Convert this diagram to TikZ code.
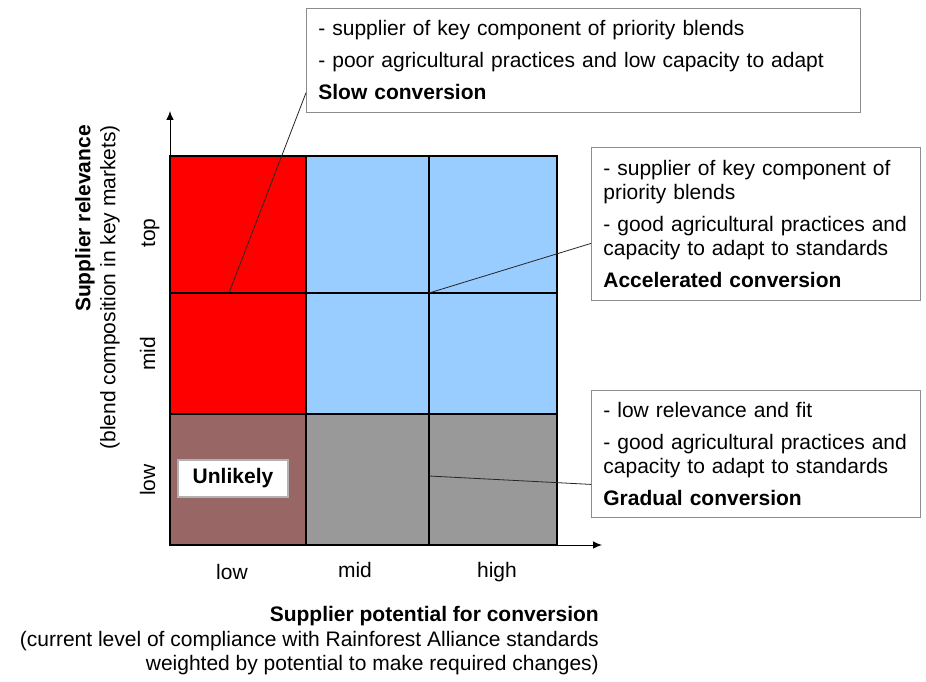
\documentclass[tikz,border=0pt]{standalone}
\usepackage{fontspec}
\setmainfont{Liberation Sans}
\usepackage{tikz}
\usetikzlibrary{arrows.meta}

\definecolor{cellblue}{HTML}{99CCFF}
\definecolor{cellbrown}{HTML}{996666}
\definecolor{cellgray}{HTML}{999999}
\newcommand{\bodyfont}{\fontsize{21}{24}\selectfont}

\begin{document}
\begin{tikzpicture}[x=1pt,y=-1pt,
			font=\bodyfont,
			note/.style={draw=black!45, line width=0.8pt, fill=white, align=left, anchor=north west, inner xsep=12pt, inner ysep=0pt},
			tag/.style={inner sep=0pt},
			link/.style={line width=0.8pt, black!85},
			axis/.style={line width=1pt, -{Latex[length=9pt,width=7.5pt]}},
			cell/.style={draw=black, line width=1.2pt}]

			\useasboundingbox (0,0) rectangle (926,682);

			% matrix cells
			\fill[red] (170,156) rectangle (306,414);
			\fill[cellblue] (306,156) rectangle (557,414);
			\fill[cellbrown] (170,414) rectangle (306,545);
			\fill[cellgray] (306,414) rectangle (557,545);
			\draw[cell] (170,156) rectangle (557,545);
			\foreach \x in {306,429} \draw[cell] (\x,156) -- (\x,545);
			\foreach \y in {293,414} \draw[cell] (170,\y) -- (557,\y);

			% axes
			\coordinate (origin) at (170,545);
			\coordinate (yend) at (170,111);
			\coordinate (xend) at (602,545);
			\draw[axis] (origin) -- (yend);
			\draw[axis] (origin) -- (xend);

			\node[tag, anchor=base] (xlow) at (232,579) {low};
			\node[tag, anchor=base] (xmid) at (355,577) {mid};
			\node[tag, anchor=base] (xhigh) at (497,577) {high};
			\node[tag, anchor=base, rotate=90] (ytop) at (155,233) {top};
			\node[tag, anchor=base, rotate=90] (ymid) at (155,354) {mid};
			\node[tag, anchor=base, rotate=90] (ylow) at (155,480) {low};

			% axis titles
			\node[tag, anchor=east, rotate=90, font=\bodyfont\bfseries] (ytitle) at (85,125) {Supplier relevance};
			\node[tag, anchor=east, rotate=90] (ysub) at (110,125) {(blend composition in key markets)};
			\node[tag, anchor=east, font=\bodyfont\bfseries] (xtitle) at (599,616) {Supplier potential for conversion};
			\node[tag, anchor=east] (xsub) at (599,641) {(current level of compliance with Rainforest Alliance standards};
			\node[tag, anchor=east] (xsubb) at (599,665) {weighted by potential to make required changes)};

			\node[draw=black!30, line width=1.5pt, fill=white, minimum width=110pt, minimum height=37pt, font=\bodyfont\bfseries] (unlikely) at (233,478.5) {Unlikely};

			% callouts
			\node[note, text width=530pt, minimum height=104pt] (slowbox) at (306,8) {- supplier of key component of priority blends\\[8pt]- poor agricultural practices and low capacity to adapt\\[8pt]\textbf{Slow conversion}};
			\node[note, text width=305pt, minimum height=153pt] (accelbox) at (591,147) {- supplier of key component of\\priority blends\\[8pt]- good agricultural practices and\\capacity to adapt to standards\\[8pt]\textbf{Accelerated conversion}};
			\node[note, text width=305pt, minimum height=127pt] (gradbox) at (591,390) {- low relevance and fit\\[8pt]- good agricultural practices and\\capacity to adapt to standards\\[8pt]\textbf{Gradual conversion}};

			\coordinate (slowpt) at (229,293);
			\coordinate (accelpt) at (429,293);
			\coordinate (gradpt) at (429,476);
			\draw[link] (slowpt) -- ([yshift=20pt]slowbox.south west);
			\draw[link] (accelpt) -- ([yshift=-19.5pt]accelbox.west);
			\draw[link] (gradpt) -- ([yshift=-30.5pt]gradbox.west);
		\end{tikzpicture}
\end{document}
